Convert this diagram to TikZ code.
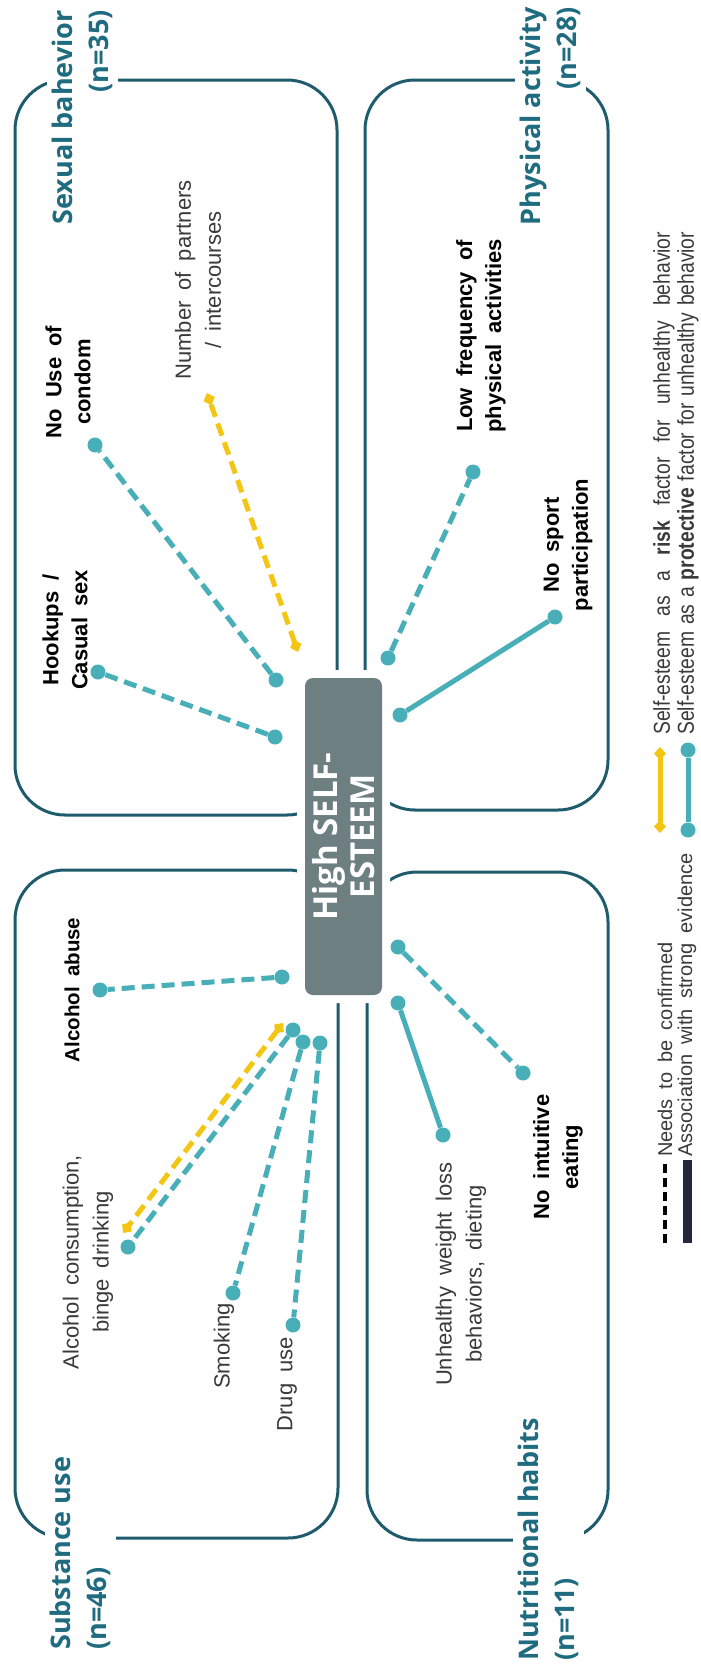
\documentclass[tikz,border=0pt]{standalone}
\usepackage{fontspec}
\setmainfont{Liberation Sans}
\newfontfamily\catfont{Open Sans}
\newfontfamily\labfont{Liberation Sans}[WordSpace=1.8]
\newfontfamily\narrowfont{Liberation Sans}[FakeStretch=0.84, WordSpace=1.3]
\usetikzlibrary{arrows.meta}
\definecolor{dotc}{HTML}{48AEB8}
\definecolor{goldc}{HTML}{F3C614}
\definecolor{framec}{HTML}{1E5B6C}
\definecolor{catc}{HTML}{1F6B80}
\definecolor{hubc}{HTML}{6E7F81}
\definecolor{txtc}{HTML}{3A3A3A}
\definecolor{barc}{HTML}{26263C}
\tikzset{
  frame/.style={draw=framec, line width=3pt, rounded corners=50pt},
  catlabel/.style={rotate=90, fill=white, inner sep=5pt, text=catc,
    font=\catfont\bfseries\fontsize{27}{36}\selectfont},
  hub/.style={rotate=90, fill=hubc, rounded corners=8pt,
    preaction={draw=white, line width=16pt},
    minimum width=317pt, minimum height=77pt, inner sep=0pt, align=center,
    text=white, font=\catfont\bfseries\fontsize{33}{37}\selectfont},
  dot/.style={circle, fill=dotc, minimum size=15pt, inner sep=0pt},
  tealdash/.style={draw=dotc, line width=5pt, dash pattern=on 13pt off 7pt},
  tealsolid/.style={draw=dotc, line width=5pt},
  golddash/.style={draw=goldc, line width=5pt, dash pattern=on 13pt off 7pt,
    arrows={Diamond[length=13pt,width=12pt]-Diamond[length=13pt,width=12pt]}},
  goldsolid/.style={draw=goldc, line width=5pt,
    arrows={Diamond[length=13pt,width=12pt]-Diamond[length=13pt,width=12pt]}},
  boldlab/.style={rotate=90, inner sep=0pt, align=center,
    font=\labfont\bfseries\fontsize{22}{29}\selectfont},
  reglab/.style={rotate=90, inner sep=0pt, align=center, text=txtc,
    font=\labfont\fontsize{22}{30}\selectfont},
  legtext/.style={rotate=90, inner sep=0pt, text=txtc,
    font=\narrowfont\fontsize{23}{26}\selectfont},
  keytext/.style={rotate=90, inner sep=0pt, text=txtc,
    font=\labfont\fontsize{20}{26}\selectfont},
}
\begin{document}
\begin{tikzpicture}[x=1pt,y=-1pt]
\useasboundingbox[fill=white] (0,0) rectangle (701,1671);

% category frames
\draw[frame] (15,80) rectangle (337,815);
\draw[frame] (365,80) rectangle (608,810);
\draw[frame] (15,870) rectangle (338,1538);
\draw[frame] (367,872) rectangle (608,1540);

% category labels
\node[catlabel, align=right, anchor=north east] (sexlab) at (47,5) {Sexual bahevior\\(n=35)};
\node[catlabel, align=right, anchor=north east] (physlab) at (515,2) {Physical activity\\(n=28)};
\node[catlabel, align=left, anchor=north west] (sublab) at (45,1655) {Substance use\\(n=46)};
\node[catlabel, align=left, anchor=north west] (nutlab) at (513,1666) {Nutritional habits\\(n=11)};

% hub
\node[hub] (hub) at (343.5,836.5) {High SELF-\\ESTEEM};

% dots
\node[dot] (hookO) at (98,672) {};
\node[dot] (hookI) at (275,737) {};
\node[dot] (condO) at (95,445) {};
\node[dot] (condI) at (276,680) {};
\coordinate (partO) at (207,393);
\coordinate (partI) at (298,652);
\node[dot] (lowO) at (473,472) {};
\node[dot] (lowI) at (388,658) {};
\node[dot] (sportO) at (555,617) {};
\node[dot] (sportI) at (400,715) {};
\node[dot] (abuseO) at (100,990) {};
\node[dot] (abuseI) at (282,977) {};
\coordinate (consYO) at (123,1233);
\coordinate (consYI) at (283,1023);
\node[dot] (consO) at (128,1247) {};
\node[dot] (consI) at (293,1030) {};
\node[dot] (smokeO) at (233,1293) {};
\node[dot] (smokeI) at (303,1042) {};
\node[dot] (drugO) at (293,1325) {};
\node[dot] (drugI) at (320,1043) {};
\node[dot] (unhO) at (443,1135) {};
\node[dot] (unhI) at (398,1003) {};
\node[dot] (intO) at (523,1073) {};
\node[dot] (intI) at (398,947) {};

% connectors
\draw[tealdash] (hookI) -- (hookO);
\draw[tealdash] (condI) -- (condO);
\draw[golddash] (partI) -- (partO);
\draw[tealdash] (lowI) -- (lowO);
\draw[tealsolid] (sportI) -- (sportO);
\draw[tealdash] (abuseI) -- (abuseO);
\draw[golddash] (consYI) -- (consYO);
\draw[tealdash] (consI) -- (consO);
\draw[tealdash] (smokeI) -- (smokeO);
\draw[tealdash] (drugI) -- (drugO);
\draw[tealsolid] (unhI) -- (unhO);
\draw[tealdash] (intI) -- (intO);

% item labels
\node[boldlab] (hooklab) at (65,630) {Hookups /\\Casual sex};
\node[boldlab] (condlab) at (68,382) {No Use of\\condom};
\node[reglab] (partlab) at (198,280) {Number of partners\\/ intercourses};
\node[boldlab] (lowlab) at (481,336) {Low frequency of\\physical activities};
\node[boldlab] (sportlab) at (568,545) {No sport\\participation};
\node[boldlab, font=\labfont\bfseries\fontsize{20.5}{29}\selectfont] (abuselab) at (72,990) {Alcohol abuse};
\node[reglab] (conslab) at (88,1262) {Alcohol consumption,\\binge drinking};
\node[reglab, anchor=east] (smokelab) at (224,1303) {Smoking};
\node[reglab, anchor=east] (druglab) at (287,1337) {Drug use};
\node[reglab] (unhlab) at (461,1274) {Unhealthy weight loss\\behaviors, dieting};
\node[boldlab] (intlab) at (558,1157) {No intuitive\\eating};

% legend: risk / protective
\coordinate (legY1) at (660,833);
\coordinate (legY2) at (660,747);
\draw[goldsolid] (legY1) -- (legY2);
\node[dot] (legT1) at (688,830) {};
\node[dot] (legT2) at (688,750) {};
\draw[tealsolid] (legT1) -- (legT2);
\node[legtext, anchor=west] (risklab) at (664,735)
  {\makebox[503pt][s]{Self-esteem as a \textbf{risk} factor for unhealthy behavior}};
\node[legtext, anchor=west] (protlab) at (688,735)
  {\makebox[503pt][s]{Self-esteem as a \textbf{protective} factor for unhealthy behavior}};

% legend: evidence
\coordinate (legD1) at (665,1243);
\coordinate (legD2) at (665,1160);
\draw[black, line width=4pt, dash pattern=on 9pt off 5pt] (legD1) -- (legD2);
\coordinate (legS1) at (687,1243);
\coordinate (legS2) at (687,1160);
\draw[barc, line width=9pt] (legS1) -- (legS2);
\node[keytext, anchor=west] (needlab) at (665,1157) {Needs to be confirmed};
\node[keytext, anchor=west] (assoclab) at (687,1157) {Association with strong evidence};
\end{tikzpicture}
\end{document}
